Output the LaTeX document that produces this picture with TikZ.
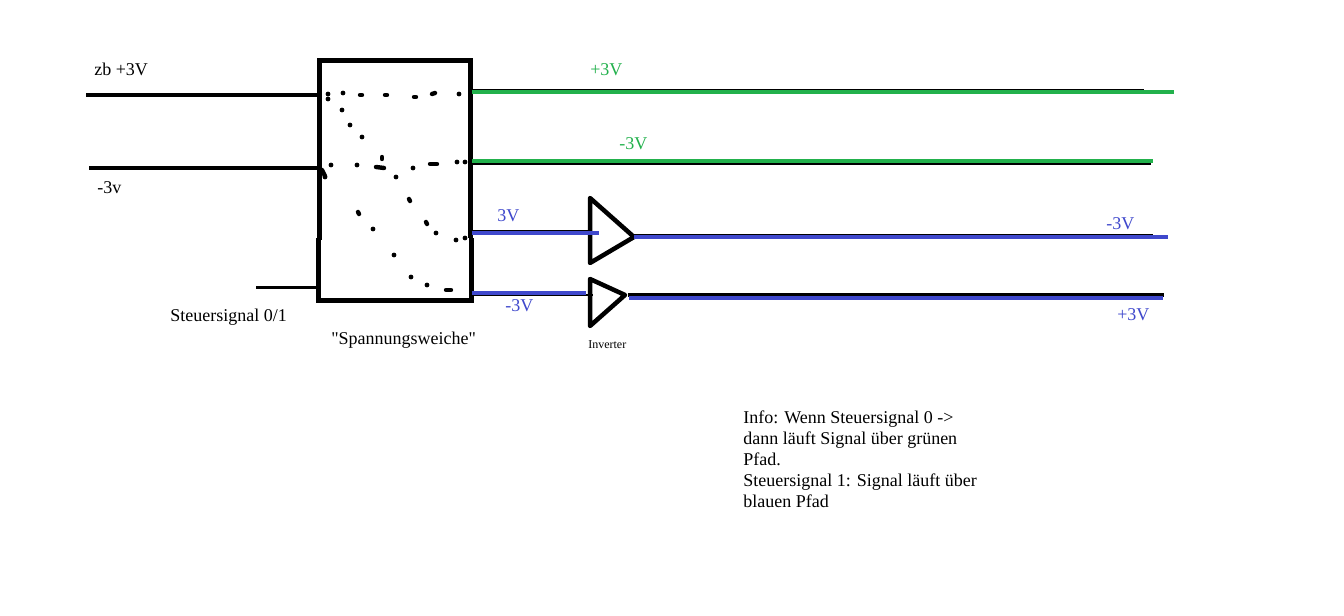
\documentclass[tikz,border=0pt]{standalone}
\usepackage{fontspec}
\setmainfont{Liberation Serif}
\usetikzlibrary{calc,backgrounds}
\definecolor{pfadgreen}{HTML}{22B14C}
\definecolor{pfadblue}{HTML}{3F48CC}
\newcommand{\px}{0.75pt}
\newcommand{\dotsize}{2.4*\px}
\tikzset{
  label/.style={inner sep=0pt,anchor=west,yshift=-1*\px,font=\fontsize{13.5}{13.5}\selectfont},
  wire/.style={line width=4*\px},
  thinwire/.style={line width=2*\px},
  greenpath/.style={pfadgreen,line width=4*\px},
  bluepath/.style={pfadblue,line width=4*\px},
  wall/.style={line width=5*\px,line cap=square},
  inverter/.style={line width=4.5*\px,line join=round},
  blob/.style={line width=4.4*\px,line cap=round}
}

\begin{document}
\begin{tikzpicture}[x=\px,y=-\px]
\useasboundingbox[fill=white] (0,0) rectangle (1344,616);
%box
\coordinate (tl) at (319.5,60.5);
\coordinate (tr) at (470.5,60.5);
\coordinate (ml) at (319.5,240);
\coordinate (bl) at (318.5,300.5);
\coordinate (mlb) at (318.5,238);
\coordinate (mr) at (470.5,238);
\coordinate (mrb) at (471.5,238);
\coordinate (br) at (471.5,300.5);
\draw[wall] (ml) -- (tl) -- (tr) -- (mr);
\draw[wall] (mlb) -- (bl) -- (br) -- (mrb);
%inputs
\coordinate (in1) at (86,95);
\coordinate (in1e) at (318,95);
\coordinate (in2) at (89,168.5);
\coordinate (in2e) at (318,168.5);
\coordinate (in3) at (256,287.5);
\coordinate (in3e) at (318,287.5);
\draw[wire] (in1) -- (in1e);
\draw[wire] (in2) -- (in2e);
\draw[line width=2.5*\px] (in3) -- (in3e);
%dots
\foreach \x/\y in {328/94,328/99,343/93,342/110,350/125,362/137,331/165,357/165,
  396/177,325/177,413/168,457/162,465/162,459/94,373/229,436/233,456/240,465/238,
  394/255,411/277,427/285}
  \fill (\x,\y) circle (\dotsize);
\draw[blob] (360,95) -- (362,95);
\draw[blob] (385,95) -- (387,95);
\draw[blob] (414,97) -- (416,97);
\draw[blob] (432,94) -- (435,93);
\draw[blob] (376,167) -- (384,168);
\draw[blob] (382,157) -- (382,159);
\draw[blob] (430,164) -- (437,164);
\draw[blob] (322,170) -- (325,176);
\draw[blob] (409,199) -- (410,201);
\draw[blob] (358,212) -- (359,214);
\draw[blob] (426,222) -- (427,224);
\draw[blob] (446,290) -- (451,290);
%triangles
\coordinate (t1a) at (590,198);
\coordinate (t1b) at (634,237);
\coordinate (t1c) at (590,263);
\coordinate (t2a) at (590,279);
\coordinate (t2b) at (625,295);
\coordinate (t2c) at (590,326);
\draw[inverter] (t1a) -- (t1b) -- (t1c) -- cycle;
\draw[inverter] (t2a) -- (t2b) -- (t2c) -- cycle;
%green
\coordinate (g1) at (472,90);
\coordinate (g1b) at (1144,90);
\coordinate (g1g) at (472,91.8);
\coordinate (g1e) at (1174,91.8);
\coordinate (g2) at (472,164);
\coordinate (g2b) at (1151,164);
\coordinate (g2g) at (472,161);
\coordinate (g2e) at (1153,161);
\draw[thinwire] (g1) -- (g1b);
\draw[greenpath] (g1g) -- (g1e);
\draw[thinwire] (g2) -- (g2b);
\draw[greenpath] (g2g) -- (g2e);
%blue
\coordinate (b1) at (472,231.5);
\coordinate (b1i) at (590,231.5);
\coordinate (b1g) at (472,233.2);
\coordinate (b1e) at (599,233.2);
\coordinate (b2) at (472,295);
\coordinate (b2i) at (593,295);
\coordinate (b2g) at (472,293);
\coordinate (b2e) at (586,293);
\coordinate (o1) at (634,235);
\coordinate (o1b) at (1153,235);
\coordinate (o1g) at (634,237);
\coordinate (o1e) at (1168,237);
\coordinate (o2) at (628,295);
\coordinate (o2b) at (1164,295);
\coordinate (o2g) at (629,298);
\coordinate (o2e) at (1163,298);
\draw[thinwire] (b1) -- (b1i);
\draw[bluepath] (b1g) -- (b1e);
\draw[thinwire] (b2) -- (b2i);
\draw[bluepath] (b2g) -- (b2e);
\draw[thinwire] (o1) -- (o1b);
\draw[bluepath] (o1g) -- (o1e);
\draw[line width=3.5*\px] (o2) -- (o2b);
\draw[bluepath] (o2g) -- (o2e);
%labels
\node[label] (zb) at (94,68) {zb +3V};
\node[label] (minusv) at (97,187) {-3v};
\node[label] (steuer) at (170,316) {Steuersignal 0/1};
\node[label] (weiche) at (331,339) {\textquotedbl Spannungsweiche\textquotedbl};
\node[label,text=pfadgreen] (gplus) at (590,69) {+3V};
\node[label,text=pfadgreen] (gminus) at (619,143) {-3V};
\node[label,text=pfadblue] (bin1) at (497,215) {3V};
\node[label,text=pfadblue] (bin2) at (505,305) {-3V};
\node[label,text=pfadblue] (bout1) at (1106,223) {-3V};
\node[label,text=pfadblue] (bout2) at (1117,314) {+3V};
\node[label,font=\fontsize{9}{9}\selectfont] (inv) at (588,344) {Inverter};
\node[label,anchor=north west,align=left,font=\fontsize{13.5}{15.75}\selectfont] (info) at (743,410)
  {Info: Wenn Steuersignal 0 ->\\dann läuft Signal über grünen\\Pfad.\\Steuersignal 1: Signal läuft über\\blauen Pfad};
\end{tikzpicture}
\end{document}
